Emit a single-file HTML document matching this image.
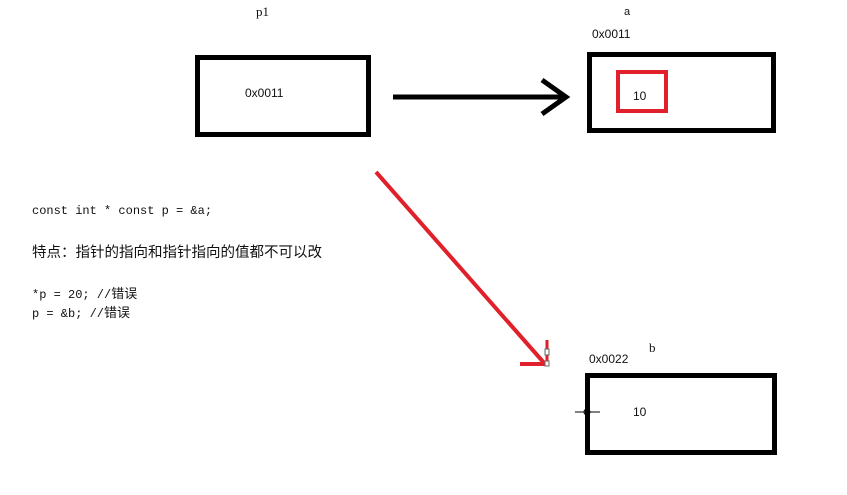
<!DOCTYPE html>
<html><head><style>
body{margin:0;width:847px;height:495px;background:#fff;position:relative;overflow:hidden;font-family:"Liberation Sans","Noto Sans CJK SC",sans-serif;}
.t{position:absolute;font-size:12px;color:#111;white-space:nowrap;}
.m{font-family:"Liberation Mono","Noto Sans CJK SC",monospace;font-size:12px;}
.c{font-family:"Liberation Sans","Noto Sans CJK SC",sans-serif;font-size:14.5px;}
</style></head><body>
<svg width="847" height="495" style="position:absolute;left:0;top:0">
<rect x="197.5" y="57.5" width="171" height="77" fill="none" stroke="#000" stroke-width="5"/>
<rect x="589.5" y="54.5" width="184" height="76" fill="none" stroke="#000" stroke-width="5"/>
<rect x="618" y="72" width="48" height="39" fill="none" stroke="#e0202a" stroke-width="4"/>
<rect x="587.5" y="375.5" width="187" height="77" fill="none" stroke="#000" stroke-width="5"/>
<line x1="393" y1="97" x2="562" y2="97" stroke="#000" stroke-width="5"/>
<polyline points="542,80 566,97 542,114" fill="none" stroke="#000" stroke-width="5"/>
<line x1="376" y1="172" x2="545" y2="364" stroke="#e0202a" stroke-width="4"/>
<line x1="520" y1="364" x2="547" y2="364" stroke="#e0202a" stroke-width="4"/>
<line x1="547" y1="340" x2="547" y2="366" stroke="#e0202a" stroke-width="3"/>
<rect x="545" y="349" width="4" height="6" fill="#fff" stroke="#666"/>
<rect x="545" y="361" width="4" height="5" fill="#fff" stroke="#666"/>
<line x1="575" y1="412" x2="600" y2="412" stroke="#000" stroke-width="1"/>
<circle cx="587" cy="412" r="3" fill="none" stroke="#000"/>
</svg>
<div class="t" style="left:256px;top:4px;font-family:'Liberation Serif',serif;font-size:13px">p1</div>
<div class="t" style="left:624px;top:6px;font-size:11px">a</div>
<div class="t" style="left:592px;top:27px">0x0011</div>
<div class="t" style="left:245px;top:86px">0x0011</div>
<div class="t" style="left:633px;top:89px">10</div>
<div class="t" style="left:649px;top:340px;font-family:'Liberation Serif',serif;font-size:13px">b</div>
<div class="t" style="left:589px;top:352px">0x0022</div>
<div class="t" style="left:633px;top:405px">10</div>
<div class="t m" style="left:32px;top:204px">const int * const p = &amp;a;</div>
<div class="t c" style="left:32px;top:241px">特点：指针的指向和指针指向的值都不可以改</div>
<div class="t m" style="left:32px;top:283px">*p = 20; //<span class="c" style="font-size:13px">错误</span></div>
<div class="t m" style="left:32px;top:302px">p = &amp;b;  //<span class="c" style="font-size:13px">错误</span></div>
</body></html>
